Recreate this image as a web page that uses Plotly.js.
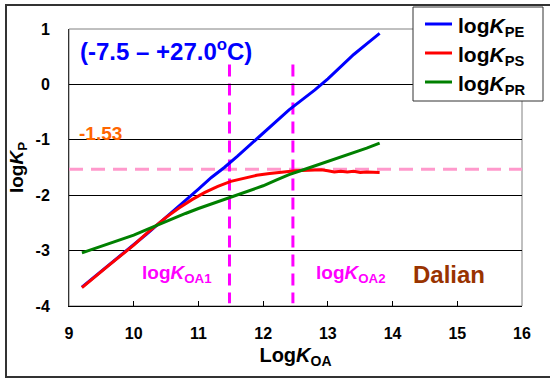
<!DOCTYPE html>
<html>
<head>
<meta charset="utf-8">
<script src="https://cdn.plot.ly/plotly-3.0.1.min.js"></script>
<style>
  html, body { margin: 0; padding: 0; background: #fff; }
  #chart { width: 550px; height: 378px; }
</style>
</head>
<body>
<div id="chart"></div>
<script>
// LogKOA values (x) for each series
const koaPE = [9.2, 9.4, 9.6, 9.8, 10.0, 10.2, 10.4, 10.6, 10.8, 11.0, 11.2, 11.4, 11.6, 11.8, 12.0, 12.2, 12.4, 12.6, 12.8, 13.0, 13.2, 13.4, 13.6, 13.8];
const logKPE = [-3.66, -3.47, -3.27, -3.08, -2.89, -2.70, -2.50, -2.30, -2.10, -1.89, -1.68, -1.50, -1.30, -1.09, -0.89, -0.67, -0.46, -0.28, -0.10, 0.10, 0.32, 0.54, 0.73, 0.92];

const koaPS = [9.2, 9.4, 9.6, 9.8, 10.0, 10.2, 10.4, 10.5, 10.7, 10.9, 11.1, 11.3, 11.5, 11.7, 11.9, 12.1, 12.3, 12.5, 12.7, 12.9, 13.0, 13.1, 13.2, 13.3, 13.4, 13.5, 13.6, 13.7, 13.8];
const logKPS = [-3.67, -3.47, -3.28, -3.09, -2.90, -2.69, -2.49, -2.40, -2.23, -2.08, -1.95, -1.84, -1.75, -1.69, -1.64, -1.61, -1.58, -1.56, -1.55, -1.54, -1.56, -1.58, -1.57, -1.58, -1.57, -1.59, -1.58, -1.58, -1.59];

const koaPR = [9.2, 9.4, 9.6, 9.8, 10.0, 10.2, 10.4, 10.6, 10.8, 11.0, 11.2, 11.4, 11.6, 11.8, 12.0, 12.2, 12.4, 12.6, 12.8, 13.0, 13.2, 13.4, 13.6, 13.8];
const logKPR = [-3.04, -2.96, -2.88, -2.80, -2.72, -2.62, -2.52, -2.42, -2.33, -2.24, -2.16, -2.07, -1.99, -1.91, -1.83, -1.73, -1.63, -1.55, -1.47, -1.39, -1.32, -1.23, -1.15, -1.06];

const seriesNames = ['log<i>K</i><sub>PE</sub>', 'log<i>K</i><sub>PS</sub>', 'log<i>K</i><sub>PR</sub>'];
const seriesColors = ['#0000ff', '#ff0000', '#008000'];

// reference values
const koaThresholds = [11.48, 12.46];
const koaLabels = ['log<i>K</i><sub>OA1</sub>', 'log<i>K</i><sub>OA2</sub>'];
const kpThreshold = -1.53;

const xTicks = [9, 10, 11, 12, 13, 14, 15, 16];
const yTicks = [-4, -3, -2, -1, 0, 1];

const FONT = 'Liberation Sans, Arial, sans-serif';

const seriesX = [koaPE, koaPS, koaPR];
const seriesY = [logKPE, logKPS, logKPR];
const traces = seriesX.map((xs, i) => ({
  x: xs, y: seriesY[i], name: seriesNames[i], type: 'scatter', mode: 'lines',
  line: {color: seriesColors[i], width: 3}, showlegend: false
}));

// pixel -> paper helpers for the legend box (plot area: l=69, t=29, w=453, h=277)
const PL = 69, PT = 29, PW = 453, PH = 277;
const px = v => (v - PL) / PW;
const py = v => 1 - (v - PT) / PH;

const shapes = [
  // plot area border
  {type: 'rect', xref: 'paper', yref: 'paper', x0: 0, x1: 1, y0: 0, y1: 1, line: {color: '#808080', width: 1}, layer: 'below'},
  // outer frame
  {type: 'rect', xref: 'paper', yref: 'paper', x0: px(6), x1: px(560), y0: py(377), y1: py(5), line: {color: '#333333', width: 2}},
  // horizontal threshold
  {type: 'line', xref: 'x', yref: 'y', x0: 9, x1: 16, y0: kpThreshold, y1: kpThreshold, line: {color: '#ff99cc', width: 3, dash: '14px,8px'}, layer: 'below'},
  // legend box
  {type: 'rect', xref: 'paper', yref: 'paper', x0: px(413), x1: px(543), y0: py(101), y1: py(7), fillcolor: '#ffffff', line: {color: '#333333', width: 1}, layer: 'above'}
];
koaThresholds.forEach(v => {
  shapes.push({type: 'line', xref: 'x', yref: 'y', x0: v, x1: v, y0: 0.36, y1: -3.95, line: {color: '#ff00ff', width: 3, dash: '12px,7px'}, layer: 'below'});
});

const legendRows = [24, 53, 82];
const annotations = [
  {xref: 'x', yref: 'y', x: 9.14, y: 0.63, xanchor: 'left', yanchor: 'middle', showarrow: false,
   text: '(-7.5 – +27.0<sup>o</sup>C)', font: {family: FONT, size: 24, color: '#0000ff', weight: 'bold'}},
  {xref: 'x', yref: 'y', x: 9.12, y: -0.88, xanchor: 'left', yanchor: 'middle', showarrow: false,
   text: String(kpThreshold), font: {family: FONT, size: 19, color: '#ff6600', weight: 'bold'}},
  {xref: 'x', yref: 'y', x: 10.1, y: -3.42, xanchor: 'left', yanchor: 'middle', showarrow: false,
   text: koaLabels[0], font: {family: FONT, size: 19, color: '#ff00ff', weight: 'bold'}},
  {xref: 'x', yref: 'y', x: 12.79, y: -3.42, xanchor: 'left', yanchor: 'middle', showarrow: false,
   text: koaLabels[1], font: {family: FONT, size: 19, color: '#ff00ff', weight: 'bold'}},
  {xref: 'x', yref: 'y', x: 14.28, y: -3.44, xanchor: 'left', yanchor: 'middle', showarrow: false,
   text: 'Dalian', font: {family: FONT, size: 24, color: '#993300', weight: 'bold'}}
];
legendRows.forEach((r, i) => {
  shapes.push({type: 'line', xref: 'paper', yref: 'paper', x0: px(425), x1: px(452), y0: py(r), y1: py(r),
    line: {color: seriesColors[i], width: 3}, layer: 'above'});
  annotations.push({xref: 'paper', yref: 'paper', x: px(456), y: py(r + 3), xanchor: 'left', yanchor: 'middle', showarrow: false,
    text: seriesNames[i], font: {family: FONT, size: 21, color: '#000000', weight: 'bold'}});
});

const layout = {
  width: 550, height: 378,
  margin: {l: PL, r: 550 - PL - PW, t: PT, b: 378 - PT - PH, pad: 0, autoexpand: false},
  paper_bgcolor: '#ffffff', plot_bgcolor: '#ffffff',
  font: {family: FONT, size: 16, color: '#000000', weight: 'bold'},
  showlegend: false,
  xaxis: {
    range: [9, 16], tickvals: xTicks, ticktext: xTicks.map(String),
    showgrid: false, zeroline: false,
    showline: true, linecolor: '#000000', linewidth: 1,
    ticks: 'inside', ticklen: 5, tickcolor: '#000000',
    ticklabelstandoff: 13,
    tickfont: {family: FONT, size: 16, color: '#000000', weight: 'bold'},
    title: {text: 'Log<i>K</i><sub>OA</sub>', font: {family: FONT, size: 20, color: '#000000', weight: 'bold'}, standoff: 6}
  },
  yaxis: {
    range: [-4, 1], tickvals: yTicks, ticktext: yTicks.map(String),
    showgrid: true, gridcolor: '#000000', gridwidth: 1, zeroline: false,
    showline: true, linecolor: '#333333', linewidth: 1,
    ticks: '', ticklabelstandoff: 15,
    tickfont: {family: FONT, size: 16, color: '#000000', weight: 'bold'},
    title: {text: 'log<i>K</i><sub>P</sub>', font: {family: FONT, size: 19, color: '#000000', weight: 'bold'}, standoff: 6}
  },
  shapes: shapes,
  annotations: annotations
};

Plotly.newPlot('chart', traces, layout, {staticPlot: true, displayModeBar: false});
</script>
</body>
</html>
